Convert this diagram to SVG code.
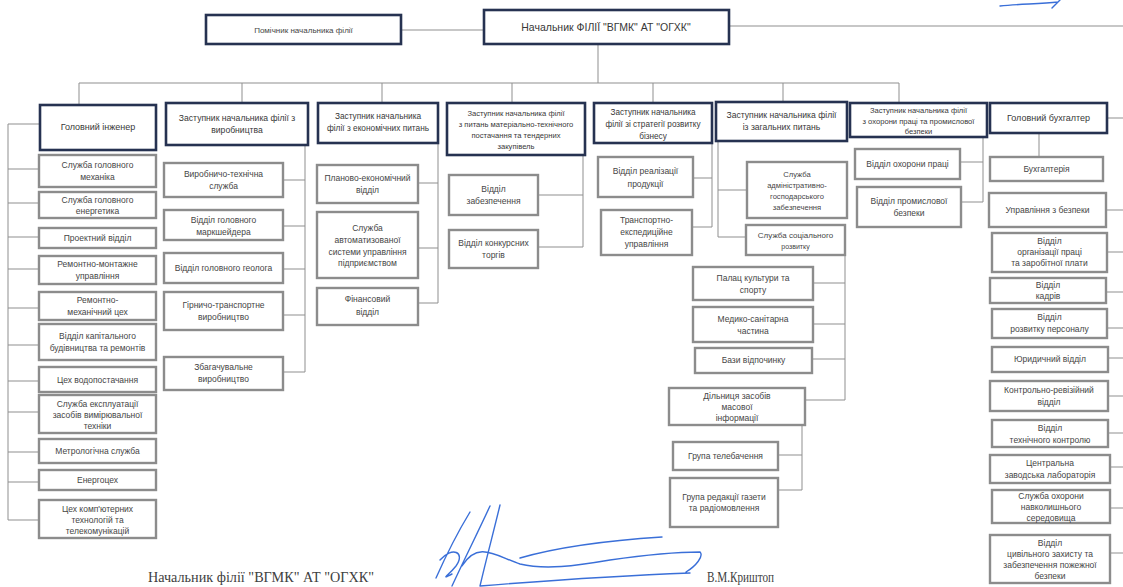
<svg xmlns="http://www.w3.org/2000/svg" width="1123" height="587" viewBox="0 0 1123 587">
<style>
.hd{fill:#fff;stroke:#263251;stroke-width:2.6}
.sb{fill:#fff;stroke:#8c8c8c;stroke-width:2.4}
.ln{stroke:#8f8f8f;stroke-width:1;fill:none}
.t{font-family:"Liberation Sans",Arial,sans-serif;font-size:8.5px;fill:#454545;text-anchor:middle}
.th{font-family:"Liberation Sans",Arial,sans-serif;font-size:8.6px;fill:#383838;text-anchor:middle}
.s{font-size:7.6px}
.sig{fill:none;stroke:#3a6fd8;stroke-width:1.4;stroke-linecap:round}
.ft{font-family:"Liberation Serif","Times New Roman",serif;font-size:14px;fill:#404040}
</style>
<rect width="1123" height="587" fill="#fff"/>
<g id="connectors" class="ln">
<path d="M401,30H484M729,26H1123M598,44V83M79,83H899M79,83V105M242,83V103M382,83V103M512,83V103M653,83V103M783,83V102M899,83V103"/>
<path d="M8,124V520M8,124H40M8,169H39M8,203H39M8,237H39M8,269H39M8,308H39M8,345H39M8,381H39M8,412H39M8,452H39M8,482H39M8,520H39"/>
<path d="M305,145V372M283,180H305M283,226H305M283,269H305M283,315H305M283,372H305"/>
<path d="M438,143V303M418,183H438M418,248H438M418,303H438"/>
<path d="M583,155V247M538,195H583M538,247H583"/>
<path d="M712,143V227M693,178H712M692,227H712"/>
<path d="M718,141V237M718,190H747M718,237H746M845,255V400M813,283H845M813,324H845M812,359H845M805,400H845M802,425V490M778,455H802M778,490H802"/>
<path d="M983,137V202M960,162H983M961,202H983"/>
<path d="M1107,118H1123M1039,133V157M1106,210H1123M1107,252H1123M1106,292H1123M1107,328H1123M1108,358H1123M1108,396H1123M1108,433H1123M1110,467H1123M1110,508H1123M1110,553H1123"/>
</g>
<g id="pomichnyk"><rect class="hd" x="206" y="15" width="195" height="29"/><text class="t" x="303.5" y="33" style="font-size:8px">Помічник начальника філії</text></g>
<g id="nachalnyk"><rect class="hd" x="484" y="10" width="245" height="34"/><text class="th" x="606" y="31" style="font-size:10.5px">Начальник ФІЛІЇ "ВГМК" АТ "ОГХК"</text></g>

<g id="c1-head"><rect class="hd" x="40" y="105" width="116" height="45"/><text class="th" x="98" y="130" style="font-size:9px">Головний інженер</text></g>
<g id="c1-1"><rect class="sb" x="39" y="155" width="117" height="32"/><text class="t" x="97.5" y="168">Служба головного</text><text class="t" x="97.5" y="180">механіка</text></g>
<g id="c1-2"><rect class="sb" x="39" y="192" width="117" height="26"/><text class="t" x="97.5" y="203">Служба головного</text><text class="t" x="97.5" y="214">енергетика</text></g>
<g id="c1-3"><rect class="sb" x="39" y="228" width="117" height="20"/><text class="t" x="97.5" y="241">Проектний відділ</text></g>
<g id="c1-4"><rect class="sb" x="39" y="256" width="117" height="28"/><text class="t" x="97.5" y="267">Ремонтно-монтажне</text><text class="t" x="97.5" y="279">управління</text></g>
<g id="c1-5"><rect class="sb" x="39" y="292" width="117" height="28"/><text class="t" x="97.5" y="303">Ремонтно-</text><text class="t" x="97.5" y="315">механічний цех</text></g>
<g id="c1-6"><rect class="sb" x="39" y="324" width="117" height="36"/><text class="t" x="97.5" y="339">Відділ капітального</text><text class="t" x="97.5" y="351">будівництва та ремонтів</text></g>
<g id="c1-7"><rect class="sb" x="39" y="367" width="117" height="25"/><text class="t" x="97.5" y="383">Цех водопостачання</text></g>
<g id="c1-8"><rect class="sb" x="39" y="395" width="117" height="38"/><text class="t" x="97.5" y="407">Служба експлуатації</text><text class="t" x="97.5" y="418">засобів вимірювальної</text><text class="t" x="97.5" y="429">техніки</text></g>
<g id="c1-9"><rect class="sb" x="39" y="439" width="117" height="24"/><text class="t" x="97.5" y="454">Метрологічна служба</text></g>
<g id="c1-10"><rect class="sb" x="39" y="470" width="117" height="20"/><text class="t" x="97.5" y="483">Енергоцех</text></g>
<g id="c1-11"><rect class="sb" x="39" y="500" width="117" height="38"/><text class="t" x="97.5" y="512">Цех комп'ютерних</text><text class="t" x="97.5" y="523">технологій та</text><text class="t" x="97.5" y="534">телекомунікацій</text></g>

<g id="c2-head"><rect class="hd" x="166" y="103" width="142" height="42"/><text class="th" x="237" y="121">Заступник начальника філії з</text><text class="th" x="237" y="133">виробництва</text></g>
<g id="c2-1"><rect class="sb" x="164" y="163" width="119" height="34"/><text class="t" x="223.5" y="177">Виробничо-технічна</text><text class="t" x="223.5" y="189">служба</text></g>
<g id="c2-2"><rect class="sb" x="164" y="210" width="119" height="30"/><text class="t" x="223.5" y="223">Відділ головного</text><text class="t" x="223.5" y="235">маркшейдера</text></g>
<g id="c2-3"><rect class="sb" x="164" y="253" width="119" height="30"/><text class="t" x="223.5" y="271">Відділ головного геолога</text></g>
<g id="c2-4"><rect class="sb" x="164" y="292" width="119" height="38"/><text class="t" x="223.5" y="308">Гірничо-транспортне</text><text class="t" x="223.5" y="320">виробництво</text></g>
<g id="c2-5"><rect class="sb" x="164" y="357" width="119" height="33"/><text class="t" x="223.5" y="370">Збагачувальне</text><text class="t" x="223.5" y="382">виробництво</text></g>

<g id="c3-head"><rect class="hd" x="318" y="103" width="120" height="40"/><text class="th" x="378" y="119" style="font-size:8.3px">Заступник начальника</text><text class="th" x="378" y="131" style="font-size:8.3px">філії з економічних питань</text></g>
<g id="c3-1"><rect class="sb" x="317" y="165" width="101" height="38"/><text class="t" x="367.5" y="181">Планово-економічний</text><text class="t" x="367.5" y="193">відділ</text></g>
<g id="c3-2"><rect class="sb" x="317" y="212" width="101" height="66"/><text class="t" x="367.5" y="231">Служба</text><text class="t" x="367.5" y="243">автоматизованої</text><text class="t" x="367.5" y="255">системи управління</text><text class="t" x="367.5" y="266">підприємством</text></g>
<g id="c3-3"><rect class="sb" x="317" y="288" width="101" height="37"/><text class="t" x="367.5" y="302">Фінансовий</text><text class="t" x="367.5" y="315">відділ</text></g>

<g id="c4-head"><rect class="hd" x="447" y="103" width="138" height="52"/><text class="th s" x="516" y="116">Заступник начальника філії</text><text class="th s" x="516" y="127">з питань матеріально-технічного</text><text class="th s" x="516" y="138">постачання та тендерних</text><text class="th s" x="516" y="149">закупівель</text></g>
<g id="c4-1"><rect class="sb" x="449" y="175" width="89" height="40"/><text class="t" x="493.5" y="192">Відділ</text><text class="t" x="493.5" y="204">забезпечення</text></g>
<g id="c4-2"><rect class="sb" x="449" y="230" width="89" height="38"/><text class="t" x="493.5" y="246">Відділ конкурсних</text><text class="t" x="493.5" y="258">торгів</text></g>

<g id="c5-head"><rect class="hd" x="594" y="103" width="118" height="40"/><text class="th" x="653" y="115" style="font-size:8.2px">Заступник начальника</text><text class="th" x="653" y="127" style="font-size:8.2px">філії зі стратегії розвитку</text><text class="th" x="653" y="139" style="font-size:8.2px">бізнесу</text></g>
<g id="c5-1"><rect class="sb" x="598" y="157" width="95" height="40"/><text class="t" x="645.5" y="174">Відділ реалізації</text><text class="t" x="645.5" y="187">продукції</text></g>
<g id="c5-2"><rect class="sb" x="601" y="210" width="91" height="45"/><text class="t" x="646.5" y="223">Транспортно-</text><text class="t" x="646.5" y="235">експедиційне</text><text class="t" x="646.5" y="247">управління</text></g>

<g id="c6-head"><rect class="hd" x="716" y="102" width="131" height="39"/><text class="th" x="781.5" y="118">Заступник начальника філії</text><text class="th" x="781.5" y="130">із загальних питань</text></g>
<g id="c6-1"><rect class="sb" x="747" y="162" width="100" height="56"/><text class="t s" x="797" y="177">Служба</text><text class="t s" x="797" y="188">адміністративно-</text><text class="t s" x="797" y="199">господарського</text><text class="t s" x="797" y="210">забезпечення</text></g>
<g id="c6-2"><rect class="sb" x="746" y="225" width="99" height="30"/><text class="t" x="795.5" y="238" style="font-size:8px">Служба соціального</text><text class="t s" x="795.5" y="249" style="font-size:7px">розвитку</text></g>
<g id="c6-3"><rect class="sb" x="693" y="267" width="120" height="33"/><text class="t" x="753" y="281">Палац культури та</text><text class="t" x="753" y="293">спорту</text></g>
<g id="c6-4"><rect class="sb" x="693" y="307" width="120" height="35"/><text class="t" x="753" y="322">Медико-санітарна</text><text class="t" x="753" y="334">частина</text></g>
<g id="c6-5"><rect class="sb" x="695" y="348" width="117" height="25"/><text class="t" x="753.5" y="363">Бази відпочинку</text></g>
<g id="c6-6"><rect class="sb" x="669" y="388" width="136" height="37"/><text class="t" x="737" y="399">Дільниця засобів</text><text class="t" x="737" y="410">масової</text><text class="t" x="737" y="421">інформації</text></g>
<g id="c6-7"><rect class="sb" x="673" y="442" width="105" height="28"/><text class="t" x="725.5" y="459">Група телебачення</text></g>
<g id="c6-8"><rect class="sb" x="670" y="478" width="108" height="49"/><text class="t" x="724" y="500">Група редакції газети</text><text class="t" x="724" y="511">та радіомовлення</text></g>

<g id="c7-head"><rect class="hd" x="850" y="103" width="137" height="34"/><text class="th s" x="918.5" y="113">Заступник  начальника філії</text><text class="th s" x="918.5" y="124">з охорони праці та промислової</text><text class="th s" x="918.5" y="134">безпеки</text></g>
<g id="c7-1"><rect class="sb" x="855" y="149" width="105" height="30"/><text class="t" x="907.5" y="167">Відділ  охорони праці</text></g>
<g id="c7-2"><rect class="sb" x="857" y="187" width="104" height="40"/><text class="t" x="909" y="204">Відділ промислової</text><text class="t" x="909" y="216">безпеки</text></g>

<g id="c8-head"><rect class="hd" x="990" y="103" width="117" height="30"/><text class="th" x="1048.5" y="121" style="font-size:9px">Головний бухгалтер</text></g>
<g id="c8-1"><rect class="sb" x="990" y="157" width="113" height="24"/><text class="t" x="1046.5" y="172">Бухгалтерія</text></g>
<g id="c8-2"><rect class="sb" x="989" y="193" width="117" height="34"/><text class="t" x="1047.5" y="213">Управління з безпеки</text></g>
<g id="c8-3"><rect class="sb" x="992" y="233" width="115" height="39"/><text class="t" x="1049.5" y="244">Відділ</text><text class="t" x="1049.5" y="255">організації праці</text><text class="t" x="1049.5" y="266">та заробітної плати</text></g>
<g id="c8-4"><rect class="sb" x="990" y="278" width="116" height="25"/><text class="t" x="1048" y="288">Відділ</text><text class="t" x="1048" y="299">кадрів</text></g>
<g id="c8-5"><rect class="sb" x="992" y="309" width="115" height="29"/><text class="t" x="1049.5" y="320">Відділ</text><text class="t" x="1049.5" y="332">розвитку персоналу</text></g>
<g id="c8-6"><rect class="sb" x="992" y="347" width="116" height="25"/><text class="t" x="1050" y="362">Юридичний відділ</text></g>
<g id="c8-7"><rect class="sb" x="990" y="381" width="118" height="30"/><text class="t" x="1049" y="393">Контрольно-ревізійний</text><text class="t" x="1049" y="405">відділ</text></g>
<g id="c8-8"><rect class="sb" x="992" y="420" width="116" height="27"/><text class="t" x="1050" y="431">Відділ</text><text class="t" x="1050" y="443">технічного контролю</text></g>
<g id="c8-9"><rect class="sb" x="990" y="455" width="120" height="28"/><text class="t" x="1050" y="466">Центральна</text><text class="t" x="1050" y="478">заводська лабораторія</text></g>
<g id="c8-10"><rect class="sb" x="992" y="490" width="118" height="33"/><text class="t" x="1051" y="499">Служба охорони</text><text class="t" x="1051" y="510">навколишнього</text><text class="t" x="1051" y="521">середовища</text></g>
<g id="c8-11"><rect class="sb" x="990" y="535" width="120" height="48"/><text class="t" x="1050" y="546">Відділ</text><text class="t" x="1050" y="557">цивільного захисту та</text><text class="t" x="1050" y="568">забезпечення пожежної</text><text class="t" x="1050" y="579">безпеки</text></g>

<g id="signature">
<text class="ft" x="148" y="582" textLength="226" lengthAdjust="spacingAndGlyphs">Начальник філії "ВГМК" АТ "ОГХК"</text>
<text class="ft" x="707" y="582" textLength="67" lengthAdjust="spacingAndGlyphs">В.М.Криштоп</text>
<path class="sig" d="M436,578C444,560 456,535 470,512M452,586C464,560 478,532 490,506M500,505C494,530 486,560 480,586M440,560C452,546 466,552 456,566C448,576 440,580 452,574M462,566C478,540 496,556 520,564C545,570 575,566 610,560C645,555 680,552 700,552C704,556 696,566 686,572M480,586C530,582 610,576 690,573M520,558C565,545 615,540 662,537M1000,6C1020,4 1040,4 1058,2M1060,0L1052,8"/>
</g>
</svg>
